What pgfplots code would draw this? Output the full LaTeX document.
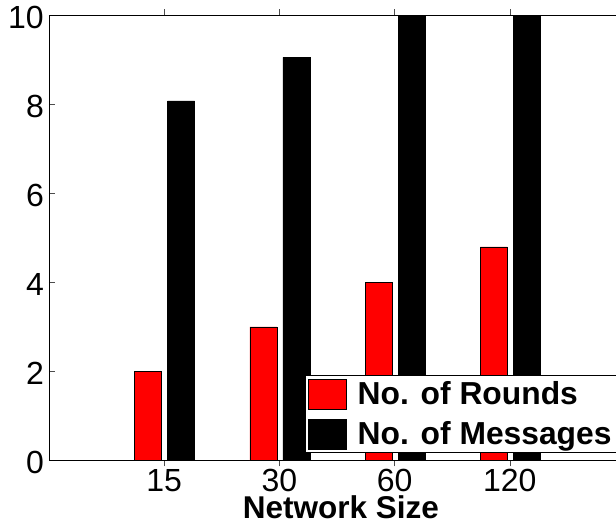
\documentclass[border=0pt]{standalone}
\usepackage{fontspec}
\setmainfont{Liberation Sans}
\usepackage{pgfplots}
\pgfplotsset{compat=1.18}
\pgfplotsset{sqlegend/.style={legend image code/.code={\draw[##1,/tikz/.cd,draw=black,line width=0.5pt] (0pt,-15.25pt) rectangle (38pt,15.25pt);}}}
\begin{document}
\begin{tikzpicture}
\begin{axis}[
  scale only axis,
  width=576pt, height=445pt,
  xmin=0, xmax=5, ymin=0, ymax=10,
  xtick={1,2,3,4}, xticklabels={15,30,60,120},
  ytick={0,2,4,6,8,10},
  tick align=inside,
  major tick length=6pt,
  tick style={black!70, line width=0.6pt},
  axis line style={line width=0.9pt},
  /pgf/number format/assume math mode=true,
  tick label style={font=\fontsize{32}{38}\selectfont},
  xticklabel style={anchor=base, inner sep=0pt, yshift=-25.5pt},
  yticklabel style={anchor=east, inner sep=0pt, xshift=-5pt, yshift=-2pt},
  xlabel={\bfseries Network Size},
  xlabel style={font=\fontsize{31.5}{38}\selectfont, anchor=base, inner sep=0pt,
    at={(axis description cs:0.5,0)}, xshift=4pt, yshift=-58pt},
  ybar,
  bar width=27pt,
  clip=true,
  legend cell align=left,
  legend style={
    at={(axis description cs:1,0)}, anchor=south east,
    xshift=-8pt, yshift=7.5pt,
    draw=black, line width=0.9pt,
    font=\fontsize{31.8}{38}\selectfont\bfseries,
    inner xsep=3pt, inner ysep=3pt,
    row sep=9pt,
    nodes={inner sep=2pt},
    /tikz/every odd column/.append style={column sep=9pt},
  },
]
\addplot[fill=red, draw=black, line width=0.5pt, bar shift=-16pt, sqlegend]
  coordinates {(1,2) (2,3) (3,4) (4,4.8)};
\addplot[fill=black, draw=black, line width=0.5pt, bar shift=17pt, sqlegend]
  coordinates {(1,8.08) (2,9.06) (3,12) (4,14)};
\legend{No. of Rounds, No. of Messages}
\end{axis}
\pgfresetboundingbox
\path ([xshift=-49pt,yshift=-68.5pt]current axis.south west) rectangle ([xshift=567pt,yshift=15.5pt]current axis.north west);
\end{tikzpicture}
\end{document}
